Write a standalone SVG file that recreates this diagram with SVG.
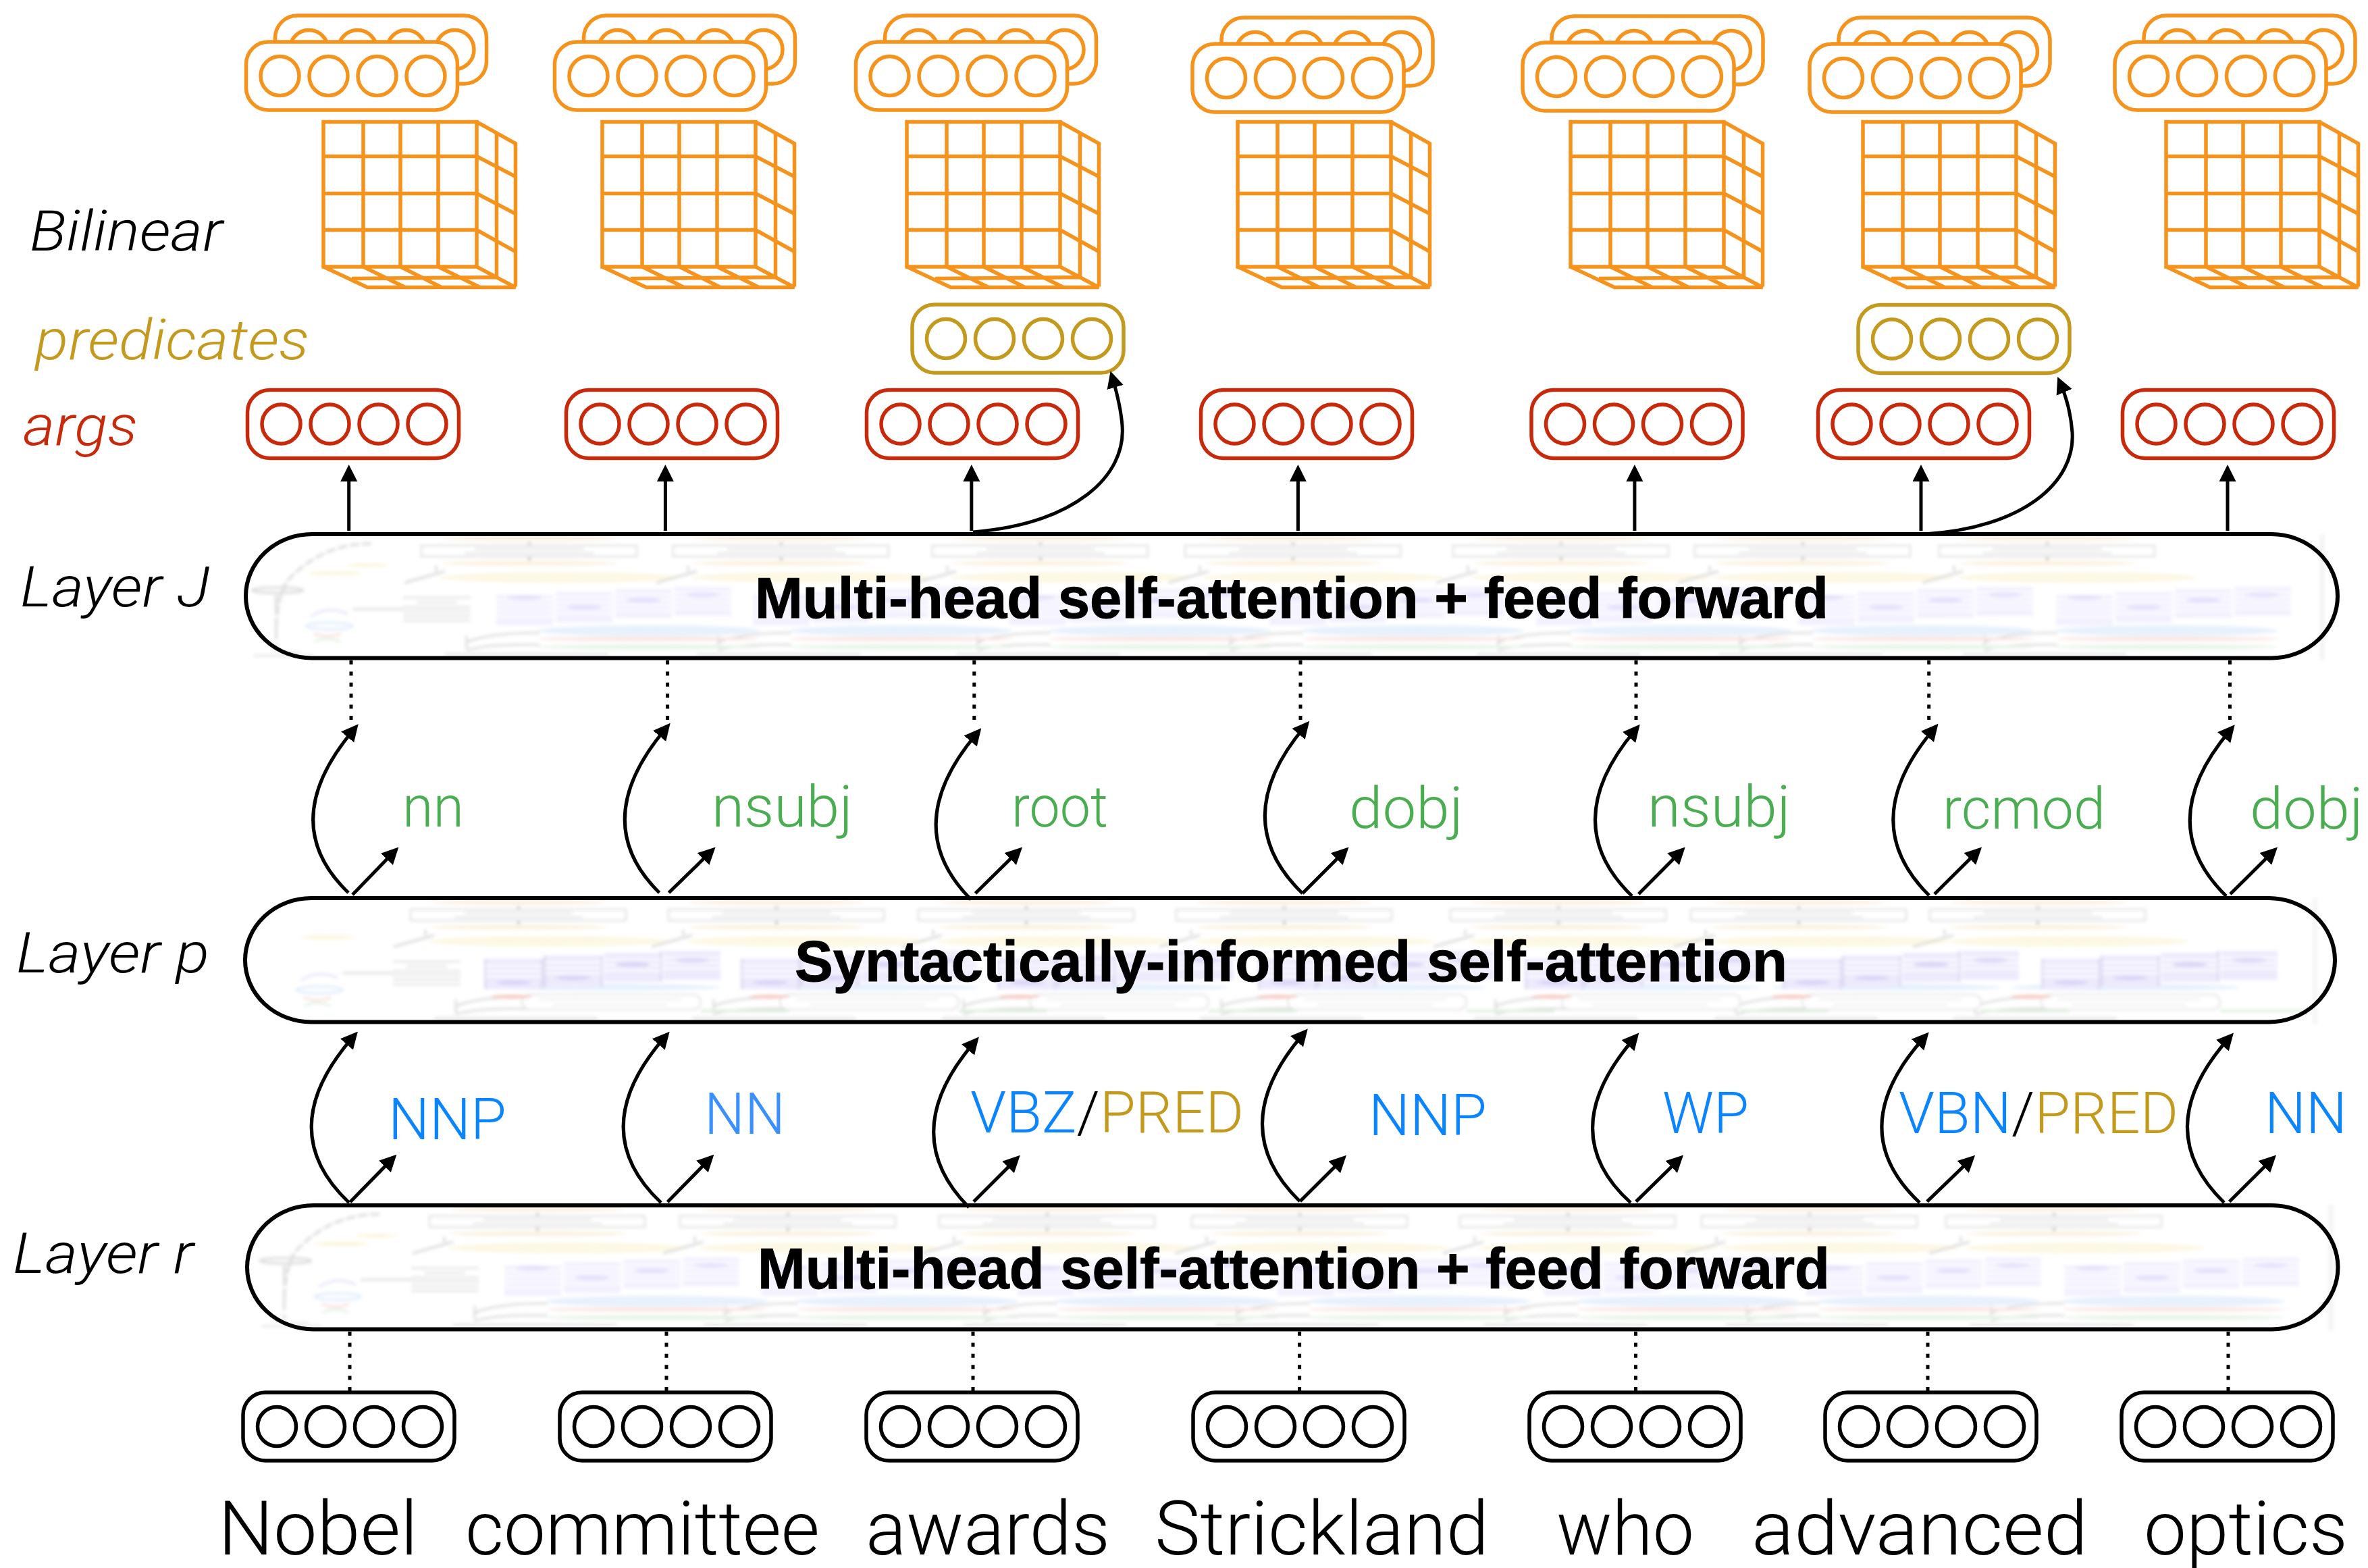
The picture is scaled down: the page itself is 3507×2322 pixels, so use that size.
<svg xmlns="http://www.w3.org/2000/svg" width="3507" height="2322" viewBox="0 0 3507 2322">
<style>
text{font-family:"Roboto","Liberation Sans",sans-serif;font-weight:300}
.it{font-style:italic;font-size:84px;fill:#000}
.w{font-size:112px;fill:#000}
.g{font-size:86px;fill:#4aad52}
.b{font-size:85px;fill:#0a84ff}
.ys{fill:#c39a1e}
.ks{fill:#000}
.h{font-family:"Liberation Sans",Arial,sans-serif;font-weight:700;font-size:85px;fill:#000;stroke:#000;stroke-width:1}
.org{stroke:#f6931d}.red{stroke:#c9290b}.gold{stroke:#c39a1e}.blk{stroke:#000}
.pill{fill:none;stroke:#000;stroke-width:6}
.ln{fill:none;stroke:#000;stroke-width:5}
.ar{marker-end:url(#ah)}
.dot{fill:none;stroke:#000;stroke-width:5;stroke-dasharray:6 10.4}
.cu{fill:none;stroke:#f6931d;stroke-width:5.5}
.art{opacity:.7}
</style>
<defs>
<marker id="ah" markerUnits="userSpaceOnUse" markerWidth="26" markerHeight="26" refX="13" refY="12.5" orient="auto"><path d="M0 0L25 12.5L0 25Z" fill="#000"/></marker>
<filter id="bl" filterUnits="userSpaceOnUse" x="300" y="-30" width="3207" height="250"><feGaussianBlur stdDeviation="2.4"/></filter>
<g id="vec" fill="#fff" stroke-width="5.5">
<rect x="0" y="0" width="313" height="101" rx="33" ry="33"/>
<ellipse cx="50" cy="50.5" rx="28.5" ry="29"/><ellipse cx="122" cy="50.5" rx="28.5" ry="29"/><ellipse cx="194" cy="50.5" rx="28.5" ry="29"/><ellipse cx="266" cy="50.5" rx="28.5" ry="29"/>
</g>
<g id="cube"><path class="cu" d="M0 0H227V214.500H0ZM59 0V214.500M114 0V214.500M170 0V214.500M0 51H227M0 106H227M0 160H227M227 0L284.500 32V244M256.500 16.500V230M227 51L284.500 81M227 106L284.500 136M227 160L284.500 192M0 214.500L65 245H284.500L227 214.500M59 214.500L121 245M114 214.500L175 245M170 214.500L232 245M42 232L256.500 230"/></g>
<g id="stack"><use href="#vec" x="43" y="-39"/><use href="#vec"/></g>
<g id="cellTop">
<ellipse cx="160" cy="6.500" rx="130" ry="3.500" fill="#f9e8d2"/>
<rect x="0" y="17" width="319" height="16" fill="#fff" stroke="#d2d2d2" stroke-width="2.500"/>
<path d="M80 22H240M65 28H255" stroke="#c9c9c9" stroke-width="2" fill="none"/>
<path d="M160 12v4M160 34v5" stroke="#aaa" stroke-width="4"/>
<ellipse cx="160" cy="43" rx="130" ry="3.500" fill="#f9ebcf"/>
<ellipse cx="205" cy="64" rx="178" ry="8" fill="#fcf5d8"/>
<path d="M-25 72L35 55M22 47v8" stroke="#bbb" stroke-width="2.500" fill="none"/>
<path d="M67 150v20M67 160Q100 146 175 146M67 172Q100 162 175 164" stroke="#c4c4c4" stroke-width="2.500" fill="none"/>
<path d="M35 178H277" stroke="#ccc" stroke-width="2.500"/>
</g>
<g id="cellBands">
<ellipse cx="337" cy="143" rx="165" ry="8" fill="#dcebfb"/>
<ellipse cx="337" cy="155" rx="165" ry="3" fill="#f8d8d2"/>
<ellipse cx="337" cy="167" rx="165" ry="3.500" fill="#dcefdc"/>
</g>
<g id="cellOval">
<ellipse cx="290" cy="132" rx="170" ry="5" fill="#dcebfb"/>
<rect x="165" y="143" width="265" height="22" rx="11" fill="#fff" stroke="#d0d0d0" stroke-width="2"/>
<path d="M190 150H400M210 158H380" stroke="#ddd" stroke-width="2"/>
<ellipse cx="150" cy="146" rx="30" ry="2.500" fill="#f2a79a"/>
<path d="M430 167H560" stroke="#cfe9cf" stroke-width="4"/>
</g>
<g id="pur">
<g fill="#eeeafe"><rect x="0" y="12" width="84" height="45"/><rect x="88" y="7" width="84" height="46"/><rect x="176" y="3" width="84" height="43"/><rect x="264" y="0" width="84" height="43"/></g>
<path d="M0 20H84M0 28H84M0 36H84M0 44H84M88 15H172M88 23H172M88 31H172M88 39H172M176 11H260M176 19H260M176 27H260M176 35H260M264 8H348M264 16H348M264 24H348M264 32H348" stroke="#fff" stroke-width="2.500"/>
<g fill="#d9d2fb"><ellipse cx="42" cy="16" rx="26" ry="3.500"/><ellipse cx="130" cy="30" rx="26" ry="3.500"/><ellipse cx="218" cy="20" rx="26" ry="3.500"/><ellipse cx="306" cy="12" rx="26" ry="3.500"/></g>
</g>
<g id="purD">
<g fill="#e6e1fb"><rect x="0" y="12" width="84" height="45"/><rect x="88" y="7" width="84" height="46"/><rect x="176" y="3" width="84" height="43"/><rect x="264" y="0" width="84" height="43"/></g>
<path d="M0 12V57M84 12V57M88 7V53M172 7V53M260 0V46" stroke="#d0cbee" stroke-width="4"/>
<path d="M0 22H84M0 30H84M0 38H84M88 17H172M88 25H172M88 33H172M176 13H260M176 21H260M176 29H260M264 10H348M264 18H348M264 26H348" stroke="#fff" stroke-width="2.500"/>
<g fill="#cbc2f3"><ellipse cx="42" cy="47" rx="26" ry="3.500"/><ellipse cx="130" cy="40" rx="26" ry="3.500"/><ellipse cx="218" cy="20" rx="26" ry="3.500"/><ellipse cx="306" cy="14" rx="26" ry="3.500"/></g>
</g>
<g id="leftArt">
<path d="M105 14Q30 14 -20 70Q-36 95 -36 150" fill="none" stroke="#cfcfcf" stroke-width="4" stroke-dasharray="14 4"/>
<ellipse cx="-34" cy="83" rx="38" ry="4" fill="none" stroke="#c9c9c9" stroke-width="3"/>
<path d="M-36 90V172" stroke="#d2d2d2" stroke-width="4" stroke-dasharray="30 6"/>
<path d="M-30 175H0M-70 180H20" stroke="#d5d5d5" stroke-width="2.500"/>
<ellipse cx="50" cy="58" rx="40" ry="3.500" fill="#fbf3d2"/>
<ellipse cx="100" cy="46" rx="30" ry="3" fill="#fbf3d2"/>
</g>
<g id="leftBubbles">
<path d="M0 122Q25 105 55 118" stroke="#ddd8fb" fill="none" stroke-width="3"/>
<ellipse cx="28" cy="136" rx="34" ry="5" fill="none" stroke="#cfe2fb" stroke-width="3"/>
<path d="M5 147Q25 155 45 147" fill="none" stroke="#f7cfc6" stroke-width="3"/>
<path d="M5 160Q25 150 45 160" fill="none" stroke="#d3ecd3" stroke-width="3"/>
</g>
<g id="textLines"><path d="M0 0H100M20 7H80M0 14H100M0 20H100M0 27H100M0 34H100" stroke="#d2d2d2" stroke-width="2.500"/><path d="M-75 17H0" stroke="#c8c8c8" stroke-width="2.500"/></g>
</defs>
<rect width="3507" height="2322" fill="#fff"/>

<g id="layer-J-art" class="art" filter="url(#bl)" transform="translate(0,791)">
<rect x="3435" y="0" width="8" height="187" fill="#f0f0f2"/>
<use href="#cellTop" x="624"/><use href="#cellTop" x="997"/><use href="#cellTop" x="1381"/><use href="#cellTop" x="1755"/><use href="#cellTop" x="2152"/><use href="#cellTop" x="2510"/><use href="#cellTop" x="2872"/>
<use href="#cellBands" x="624"/><use href="#cellBands" x="997"/><use href="#cellBands" x="1381"/><use href="#cellBands" x="1755"/><use href="#cellBands" x="2152"/><use href="#cellBands" x="2510"/><use href="#cellBands" x="2872"/>
<use href="#pur" x="735" y="78"/><use href="#pur" x="1115" y="78"/><use href="#pur" x="1495" y="78"/><use href="#pur" x="1880" y="78"/><use href="#pur" x="2275" y="78"/><use href="#pur" x="2663" y="78"/><use href="#pur" x="3045" y="78"/>
<use href="#textLines" x="597" y="94"/><use href="#leftArt" x="445"/><use href="#leftBubbles" x="460"/>
</g>
<g id="layer-p-art" class="art" filter="url(#bl)" transform="translate(0,1330)">
<rect x="3425" y="0" width="7" height="187" fill="#f0f0f2"/>
<use href="#cellTop" x="608"/><use href="#cellTop" x="990"/><use href="#cellTop" x="1360"/><use href="#cellTop" x="1742"/><use href="#cellTop" x="2148"/><use href="#cellTop" x="2504"/><use href="#cellTop" x="2858"/>
<use href="#cellOval" x="608"/><use href="#cellOval" x="990"/><use href="#cellOval" x="1360"/><use href="#cellOval" x="1742"/><use href="#cellOval" x="2148"/><use href="#cellOval" x="2504"/><use href="#cellOval" x="2858"/>
<use href="#purD" x="719" y="78"/><use href="#purD" x="1099" y="78"/><use href="#purD" x="1479" y="78"/><use href="#purD" x="1865" y="78"/><use href="#purD" x="2260" y="78"/><use href="#purD" x="2642" y="78"/><use href="#purD" x="3025" y="78"/>
<use href="#textLines" x="582" y="94"/><use href="#leftBubbles" x="445"/>
<ellipse cx="485" cy="58" rx="40" ry="3.500" fill="#fbf3d2"/>
</g>
<g id="layer-r-art" class="art" filter="url(#bl)" transform="translate(0,1784)">
<rect x="3448" y="0" width="8" height="187" fill="#f0f0f2"/>
<use href="#cellTop" x="636"/><use href="#cellTop" x="1007"/><use href="#cellTop" x="1391"/><use href="#cellTop" x="1765"/><use href="#cellTop" x="2162"/><use href="#cellTop" x="2520"/><use href="#cellTop" x="2882"/>
<use href="#cellBands" x="636"/><use href="#cellBands" x="1007"/><use href="#cellBands" x="1391"/><use href="#cellBands" x="1765"/><use href="#cellBands" x="2162"/><use href="#cellBands" x="2520"/><use href="#cellBands" x="2882"/>
<use href="#pur" x="747" y="78"/><use href="#pur" x="1127" y="78"/><use href="#pur" x="1507" y="78"/><use href="#pur" x="1892" y="78"/><use href="#pur" x="2287" y="78"/><use href="#pur" x="2675" y="78"/><use href="#pur" x="3057" y="78"/>
<use href="#textLines" x="609" y="94"/><use href="#leftArt" x="457"/><use href="#leftBubbles" x="472"/>
</g>

<g id="layer-J"><rect class="pill" x="364" y="791" width="3098" height="183.500" rx="98" ry="91.750"/><text class="h" x="1118" y="915" textLength="1590" lengthAdjust="spacingAndGlyphs">Multi-head self-attention + feed forward</text></g>
<g id="layer-p"><rect class="pill" x="363" y="1330" width="3095" height="183.500" rx="98" ry="91.750"/><text class="h" x="1177" y="1453" textLength="1470" lengthAdjust="spacingAndGlyphs">Syntactically-informed self-attention</text></g>
<g id="layer-r"><rect class="pill" x="366" y="1785" width="3096.500" height="183.500" rx="98" ry="91.750"/><text class="h" x="1122" y="1908" textLength="1588" lengthAdjust="spacingAndGlyphs">Multi-head self-attention + feed forward</text></g>

<g id="bilinear-1" class="org"><use href="#stack" x="364.500" y="62"/><use href="#cube" x="479" y="180.500"/></g>
<g id="bilinear-2" class="org"><use href="#stack" x="821.500" y="62"/><use href="#cube" x="892" y="180.500"/></g>
<g id="bilinear-3" class="org"><use href="#stack" x="1267.500" y="62"/><use href="#cube" x="1343" y="180.500"/></g>
<g id="bilinear-4" class="org"><use href="#stack" x="1766" y="65"/><use href="#cube" x="1833" y="180.500"/></g>
<g id="bilinear-5" class="org"><use href="#stack" x="2255" y="63"/><use href="#cube" x="2326" y="180.500"/></g>
<g id="bilinear-6" class="org"><use href="#stack" x="2680" y="65"/><use href="#cube" x="2759" y="180.500"/></g>
<g id="bilinear-7" class="org"><use href="#stack" x="3132" y="62"/><use href="#cube" x="3208" y="180.500"/></g>

<g id="pred-3" class="gold"><use href="#vec" x="1351" y="451"/></g>
<g id="pred-6" class="gold"><use href="#vec" x="2752" y="451.500"/></g>

<g id="arg-1" class="red"><use href="#vec" x="366.500" y="577.500"/></g>
<g id="arg-2" class="red"><use href="#vec" x="838.500" y="577.500"/></g>
<g id="arg-3" class="red"><use href="#vec" x="1283.500" y="577.500"/></g>
<g id="arg-4" class="red"><use href="#vec" x="1778.500" y="577.500"/></g>
<g id="arg-5" class="red"><use href="#vec" x="2268" y="577.500"/></g>
<g id="arg-6" class="red"><use href="#vec" x="2692.500" y="577.500"/></g>
<g id="arg-7" class="red"><use href="#vec" x="3143.500" y="577.500"/></g>

<g id="input-1" class="blk"><use href="#vec" x="360" y="2062"/></g>
<g id="input-2" class="blk"><use href="#vec" x="829" y="2062"/></g>
<g id="input-3" class="blk"><use href="#vec" x="1283" y="2062"/></g>
<g id="input-4" class="blk"><use href="#vec" x="1767" y="2062"/></g>
<g id="input-5" class="blk"><use href="#vec" x="2265" y="2062"/></g>
<g id="input-6" class="blk"><use href="#vec" x="2703" y="2062"/></g>
<g id="input-7" class="blk"><use href="#vec" x="3142" y="2062"/></g>

<g id="connectors">
<path class="ln ar" d="M516.700 786V700"/><path class="ln ar" d="M985.400 786V700"/><path class="ln ar" d="M1438.800 786V700"/><path class="ln ar" d="M1922.400 786V700"/><path class="ln ar" d="M2420.900 786V700"/><path class="ln ar" d="M2845 786V700"/><path class="ln ar" d="M3299 786V700"/>
<path class="ln ar" d="M1441 788C1592 775 1668 705 1662 630C1660 605 1655 585 1648 561"/>
<path class="ln ar" d="M2850 791C2995 782 3074 715 3069 640C3067 615 3061 590 3052 569"/>
<path class="dot" d="M520 978V1076M988.600 978V1076M1442.800 978V1076M1926 978V1068M2423 978V1073M2856.700 978V1072M3302.500 978V1073"/>
<path class="ln ar" d="M516 1322Q408 1218.500 523 1081.500"/><path class="ln ar" d="M976.500 1322Q870 1217 985 1080"/><path class="ln ar" d="M1438 1332Q1330.600 1224.500 1445.600 1087.500"/><path class="ln ar" d="M1929 1323Q1816.500 1214 1931.500 1077"/><path class="ln ar" d="M2417 1327Q2306 1219 2421 1082"/><path class="ln ar" d="M2857 1326Q2747.800 1218 2862.800 1081"/><path class="ln ar" d="M3297 1327Q3187 1219.400 3302 1082.400"/>
<path class="ln ar" d="M522 1325L582 1263"/><path class="ln ar" d="M990.500 1322L1051 1263"/><path class="ln ar" d="M1444.500 1323L1505.500 1263"/><path class="ln ar" d="M1929 1323L1989 1263"/><path class="ln ar" d="M2426.700 1324L2487.300 1263"/><path class="ln ar" d="M2865 1324L2926.500 1263"/><path class="ln ar" d="M3303 1324L3364.500 1263"/>
<path class="ln ar" d="M517 1781Q403 1673.500 522 1536.700"/><path class="ln ar" d="M979 1781Q865 1673.500 983.800 1536.700"/><path class="ln ar" d="M1435 1788Q1327 1679 1442 1544.700"/><path class="ln ar" d="M1925 1779Q1812 1669 1929 1532.600"/><path class="ln ar" d="M2415 1781Q2300 1677 2419.500 1538.500"/><path class="ln ar" d="M2843 1781Q2728 1673 2848.700 1537.500"/><path class="ln ar" d="M3294 1781Q3182 1672 3300 1538.500"/>
<path class="ln ar" d="M518.600 1780L579 1718.300"/><path class="ln ar" d="M988.600 1780L1049 1718.300"/><path class="ln ar" d="M1442 1779.500L1502.300 1719.300"/><path class="ln ar" d="M1925.400 1779L1985.500 1719.300"/><path class="ln ar" d="M2423 1779.400L2484.500 1719"/><path class="ln ar" d="M2854 1779.400L2916.500 1719"/><path class="ln ar" d="M3301.700 1779.400L3362.500 1719"/>
<path class="dot" d="M518 1972V2069M987 1972V2069M1441 1972V2069M1924.600 1972V2069M2422.500 1972V2069M2855 1972V2069M3300 1972V2069"/>
</g>

<g id="labels">
<text class="it" x="44" y="371" textLength="286" lengthAdjust="spacingAndGlyphs">Bilinear</text>
<text class="it" style="fill:#c39a1e" x="52" y="532" textLength="406" lengthAdjust="spacingAndGlyphs">predicates</text>
<text class="it" style="fill:#c9290b" x="34" y="659" textLength="170" lengthAdjust="spacingAndGlyphs">args</text>
<text class="it" x="30" y="898" textLength="281" lengthAdjust="spacingAndGlyphs">Layer J</text>
<text class="it" x="24" y="1440" textLength="286" lengthAdjust="spacingAndGlyphs">Layer p</text>
<text class="it" x="19" y="1885" textLength="268" lengthAdjust="spacingAndGlyphs">Layer r</text>
<text class="g" x="596" y="1224" textLength="91" lengthAdjust="spacingAndGlyphs">nn</text>
<text class="g" x="1054" y="1224" textLength="209" lengthAdjust="spacingAndGlyphs">nsubj</text>
<text class="g" x="1498" y="1224" textLength="143" lengthAdjust="spacingAndGlyphs">root</text>
<text class="g" x="1998" y="1226" textLength="169" lengthAdjust="spacingAndGlyphs">dobj</text>
<text class="g" x="2440" y="1224" textLength="212" lengthAdjust="spacingAndGlyphs">nsubj</text>
<text class="g" x="2877" y="1227" textLength="241" lengthAdjust="spacingAndGlyphs">rcmod</text>
<text class="g" x="3332" y="1227" textLength="168" lengthAdjust="spacingAndGlyphs">dobj</text>
<text class="b" x="575" y="1687" textLength="175" lengthAdjust="spacingAndGlyphs">NNP</text>
<text class="b" style="fill:#3a90ff" x="1043" y="1679" textLength="120" lengthAdjust="spacingAndGlyphs">NN</text>
<text class="b" x="1437" y="1677" textLength="405" lengthAdjust="spacingAndGlyphs">VBZ<tspan class="ks">/</tspan><tspan class="ys">PRED</tspan></text>
<text class="b" x="2027" y="1681" textLength="175" lengthAdjust="spacingAndGlyphs">NNP</text>
<text class="b" x="2462" y="1678" textLength="128" lengthAdjust="spacingAndGlyphs">WP</text>
<text class="b" x="2812" y="1678" textLength="414" lengthAdjust="spacingAndGlyphs">VBN<tspan class="ks">/</tspan><tspan class="ys">PRED</tspan></text>
<text class="b" x="3354" y="1678" textLength="122" lengthAdjust="spacingAndGlyphs">NN</text>
<text class="w" x="323" y="2302" textLength="296" lengthAdjust="spacingAndGlyphs">Nobel</text>
<text class="w" x="689" y="2302" textLength="525" lengthAdjust="spacingAndGlyphs">committee</text>
<text class="w" x="1282" y="2302" textLength="362" lengthAdjust="spacingAndGlyphs">awards</text>
<text class="w" x="1710" y="2302" textLength="495" lengthAdjust="spacingAndGlyphs">Strickland</text>
<text class="w" x="2305" y="2302" textLength="204" lengthAdjust="spacingAndGlyphs">who</text>
<text class="w" x="2594" y="2302" textLength="498" lengthAdjust="spacingAndGlyphs">advanced</text>
<text class="w" x="3175" y="2302" textLength="302" lengthAdjust="spacingAndGlyphs">optics</text>
</g>
</svg>
